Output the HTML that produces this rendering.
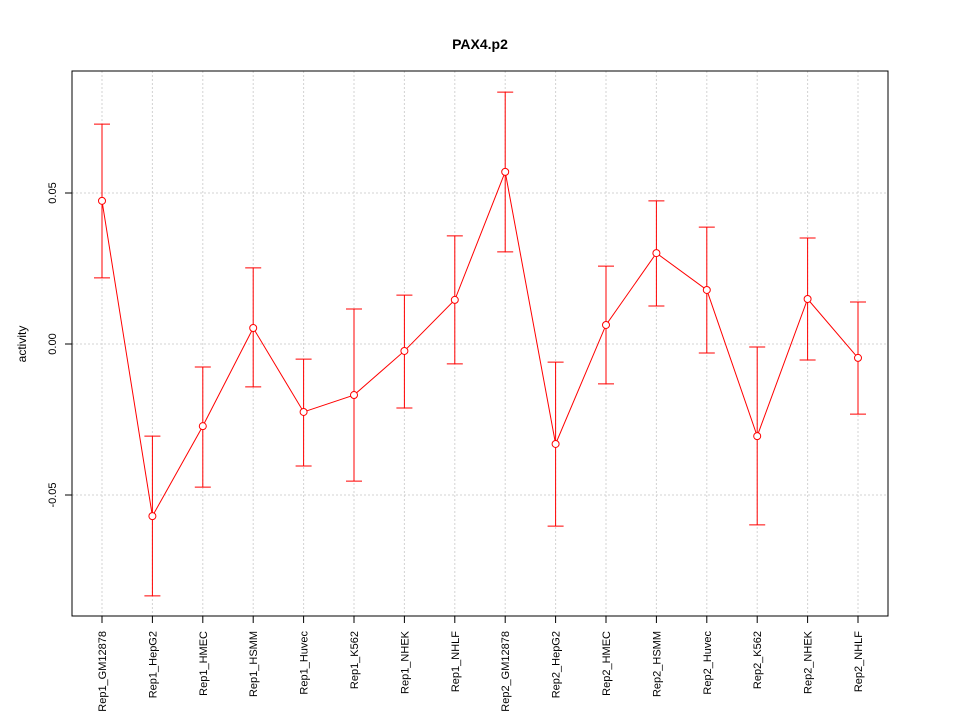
<!DOCTYPE html>
<html><head><meta charset="utf-8"><style>
html,body{margin:0;padding:0;background:#fff;}
svg{display:block;font-family:"Liberation Sans",Arial,sans-serif;}
</style></head><body>
<svg id="chart" width="960" height="720" viewBox="0 0 960 720">
<text x="480" y="49" text-anchor="middle" font-size="14" font-weight="bold">PAX4.p2</text>
<g id="grid"></g>
<g id="axes"></g>
<g id="series"></g>
<rect x="72" y="71" width="816" height="545" fill="none" stroke="#000" stroke-width="1"/>
<text transform="translate(26,344) rotate(-90)" text-anchor="middle" font-size="12">activity</text>
</svg>
<script>
const categories = ["Rep1_GM12878","Rep1_HepG2","Rep1_HMEC","Rep1_HSMM","Rep1_Huvec","Rep1_K562","Rep1_NHEK","Rep1_NHLF","Rep2_GM12878","Rep2_HepG2","Rep2_HMEC","Rep2_HSMM","Rep2_Huvec","Rep2_K562","Rep2_NHEK","Rep2_NHLF"];
const values = [0.0474,-0.057,-0.0272,0.0053,-0.0225,-0.0169,-0.0023,0.0146,0.057,-0.0331,0.0063,0.0301,0.0179,-0.0305,0.0149,-0.0046];
const upper = [0.0728,-0.0305,-0.0076,0.0252,-0.005,0.0116,0.0162,0.0358,0.0834,-0.006,0.0258,0.0474,0.0387,-0.001,0.0351,0.0139];
const lower = [0.0219,-0.0834,-0.0474,-0.0142,-0.0404,-0.0454,-0.0212,-0.0066,0.0305,-0.0603,-0.0132,0.0126,-0.003,-0.0599,-0.0053,-0.0232];
const yTicks = [-0.05,0,0.05];
const yTickLabels = ["-0.05","0.00","0.05"];

const NS="http://www.w3.org/2000/svg";
function xs(i){return 102 + i*(756/15);}
function ys(v){return 344 - v*3020;}
function mk(tag,attrs,parent){const e=document.createElementNS(NS,tag);for(const k in attrs)e.setAttribute(k,attrs[k]);parent.appendChild(e);return e;}
const grid=document.getElementById('grid'),axes=document.getElementById('axes'),series=document.getElementById('series');

categories.forEach((c,i)=>{
  const x=xs(i);
  const g=mk('line',{x1:x,x2:x,y1:71,y2:616,stroke:'#d3d3d3','stroke-dasharray':'2,2'},grid);
  
  
  const t=mk('line',{x1:x,x2:x,y1:616,y2:623,stroke:'#000'},axes);
  
  
  const l=mk('text',{transform:`translate(${x+4},631) rotate(-90)`,'text-anchor':'end','font-size':'11'},axes);
  l.textContent=c;
  
  
});
yTicks.forEach((v,i)=>{
  const y=ys(v);
  const g=mk('line',{x1:72,x2:888,y1:y,y2:y,stroke:'#d3d3d3','stroke-dasharray':'2,2'},grid);
  
  
  const t=mk('line',{x1:65,x2:72,y1:y,y2:y,stroke:'#000'},axes);
  
  
  const l=mk('text',{transform:`translate(56,${y}) rotate(-90)`,'text-anchor':'middle','font-size':'11'},axes);
  l.textContent=yTickLabels[i];
  
  
});
const yAxisLine=mk('line',{x1:72,x2:72,y1:ys(yTicks[0]),y2:ys(yTicks[yTicks.length-1]),stroke:'#000'},axes);



const line=mk('polyline',{points:values.map((v,i)=>xs(i)+','+ys(v)).join(' '),fill:'none',stroke:'#ff0000','stroke-width':1},series);


values.forEach((v,i)=>{
  const x=xs(i);
  const eb=mk('path',{d:`M${x},${ys(upper[i])}V${ys(lower[i])}M${x-8},${ys(upper[i])}H${x+8}M${x-8},${ys(lower[i])}H${x+8}`,stroke:'#ff0000',fill:'none'},series);
  
  
  const p=mk('circle',{cx:x,cy:ys(v),r:3.5,fill:'#fff',stroke:'#ff0000'},series);
  
  
});
</script>
</body></html>
